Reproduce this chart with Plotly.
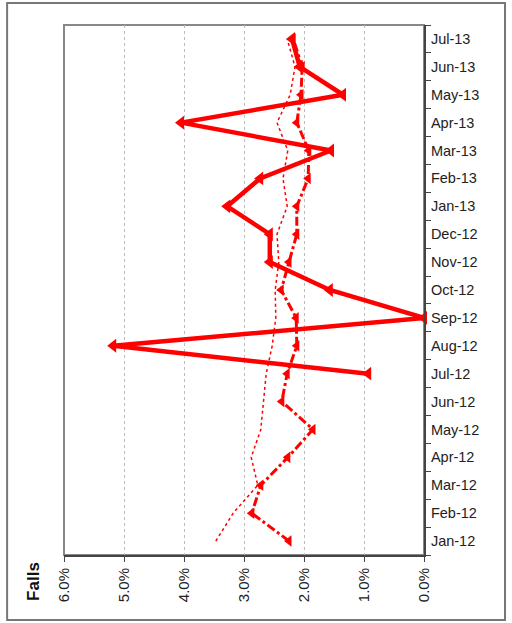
import plotly.graph_objects as go

months = ["Jan-12", "Feb-12", "Mar-12", "Apr-12", "May-12", "Jun-12", "Jul-12",
          "Aug-12", "Sep-12", "Oct-12", "Nov-12", "Dec-12", "Jan-13", "Feb-13",
          "Mar-13", "Apr-13", "May-13", "Jun-13", "Jul-13"]

# Thick solid series (starts Jul-12)
solid_vals = [None, None, None, None, None, None, 0.0093,
              0.0518, 0.0000, 0.0157, 0.0257, 0.0257, 0.0328, 0.0273,
              0.0155, 0.0405, 0.0135, 0.0207, 0.0220]

# Dash-dot series
dashdot_vals = [0.0225, 0.0287, 0.0272, 0.0227, 0.0185, 0.0237, 0.0228,
                0.0212, 0.0213, 0.0238, 0.0225, 0.0212, 0.0212, 0.0193,
                0.0192, 0.0212, 0.0205, 0.0203, 0.0218]

# Thin dotted series
dotted_vals = [0.0347, 0.0318, 0.0277, 0.0288, 0.0272, 0.0268, 0.0263,
               0.0253, 0.0247, 0.0248, 0.0242, 0.0245, 0.0228, 0.0235,
               0.0227, 0.0245, 0.0223, 0.0215, 0.0228]

x_ticks = [0.06, 0.05, 0.04, 0.03, 0.02, 0.01, 0.0]

RED = "#FF0000"
fig = go.Figure()

fig.add_trace(go.Scatter(
    x=dotted_vals, y=months, mode="lines",
    line=dict(color=RED, width=1.5, dash="dot"), showlegend=False,
))
fig.add_trace(go.Scatter(
    x=dashdot_vals, y=months, mode="lines+markers",
    line=dict(color=RED, width=3, dash="dashdot"),
    marker=dict(symbol="triangle-left", size=10, color=RED),
    showlegend=False, cliponaxis=False,
))
fig.add_trace(go.Scatter(
    x=solid_vals, y=months, mode="lines+markers",
    line=dict(color=RED, width=4.5),
    marker=dict(symbol="triangle-left", size=12, color=RED),
    showlegend=False, cliponaxis=False, connectgaps=False,
))

fig.update_layout(
    width=512, height=623,
    margin=dict(l=64, r=88, t=25, b=68),
    paper_bgcolor="white", plot_bgcolor="white",
    font=dict(family="Liberation Sans, Arial, sans-serif", size=14, color="#222"),
    xaxis=dict(
        range=[0.06, 0.0], tickvals=x_ticks, tickformat=".1%",
        tickangle=-90, showgrid=True, gridcolor="#BBBBBB", griddash="dot",
        gridwidth=1, zeroline=False, showline=True, linecolor="#444",
        linewidth=2, ticks="outside", ticklen=5, tickcolor="#444",
        tickfont=dict(size=15, color="#222"),
    ),
    yaxis=dict(
        type="category", categoryorder="array", categoryarray=months,
        side="right", showgrid=False, showline=True, linecolor="#444",
        linewidth=2, ticks="outside", ticklen=5, tickcolor="#444",
        tickson="boundaries", tickfont=dict(size=14.5, color="#222"),
        ticklabelstandoff=2,
        range=[-0.5, len(months) - 0.5],
    ),
    shapes=[
        dict(type="rect", xref="paper", yref="paper", x0=0, x1=1, y0=0, y1=1,
             line=dict(color="#888888", width=2), layer="below"),
        dict(type="rect", xref="paper", yref="paper",
             x0=-0.158, x1=1.225, y0=-0.1226, y1=1.0415,
             line=dict(color="#777777", width=2), layer="below"),
    ],
    annotations=[
        dict(text="<b>Falls</b>", xref="paper", yref="paper",
             x=-0.085, y=-0.05, textangle=-90, showarrow=False,
             font=dict(size=17, color="#111"), xanchor="center", yanchor="middle"),
    ],
)

fig.write_html("out.html")
